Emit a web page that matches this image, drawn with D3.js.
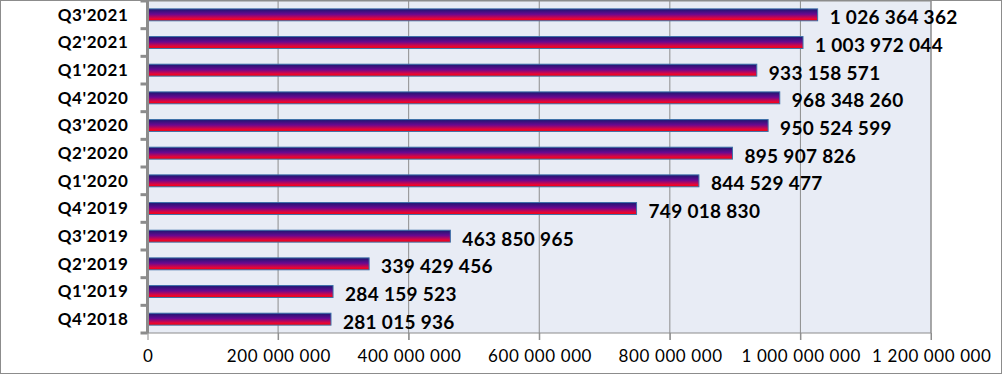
<!DOCTYPE html>
<html>
  <head>
    <meta charset="UTF-8">
    <style>
      body {
        margin: 0;
        font-family: Lato, "Open Sans", sans-serif;
        background: white;
      }
      .x-axis text {
        font-family: Lato, sans-serif;
        font-size: 17px;
        letter-spacing: 0.6px;
        fill: #000;
      }
      .y-axis text {
        font-family: Lato, sans-serif;
        font-size: 17px;
        font-weight: bold;
        letter-spacing: 0.6px;
        fill: #000;
      }
      .value-label {
        font-family: Lato, sans-serif;
        font-size: 19px;
        font-weight: bold;
        letter-spacing: 0.3px;
        fill: #000;
      }
    </style>
    <script src="https://d3js.org/d3.v7.min.js"></script>
  </head>
  <body>
    <svg id="chart"></svg>

    <script type="text/javascript">
      let quarters = ["Q4'2018", "Q1'2019", "Q2'2019", "Q3'2019", "Q4'2019", "Q1'2020",
                      "Q2'2020", "Q3'2020", "Q4'2020", "Q1'2021", "Q2'2021", "Q3'2021"]
      let values = [281015936, 284159523, 339429456, 463850965, 749018830, 844529477,
                    895907826, 950524599, 968348260, 933158571, 1003972044, 1026364362]
      let xTicks = [0, 200e6, 400e6, 600e6, 800e6, 1000e6, 1200e6]

      let fmt = v => d3.format(',')(v).replace(/,/g, ' ')

      let width = 1004
      let height = 376
      let margin = { top: 1, bottom: 43, left: 147.5, right: 73 }
      let bodyWidth = width - margin.left - margin.right
      let bodyHeight = height - margin.top - margin.bottom

      let svg = d3.select('#chart')
        .attr('width', width)
        .attr('height', height)

      let defs = svg.append('defs')
      let grad = defs.append('linearGradient')
        .attr('id', 'barGrad')
        .attr('x1', 0).attr('y1', 0).attr('x2', 0).attr('y2', 1)
      grad.append('stop').attr('offset', '0%').attr('stop-color', '#1a1870')
      grad.append('stop').attr('offset', '45%').attr('stop-color', '#6a0890')
      grad.append('stop').attr('offset', '80%').attr('stop-color', '#e0063e')
      grad.append('stop').attr('offset', '100%').attr('stop-color', '#ff0000')

      // outer frame
      svg.append('rect')
        .attr('x', 0.5).attr('y', 0.5)
        .attr('width', width - 3).attr('height', height - 3)
        .attr('fill', 'white')
        .attr('stroke', '#8c8c8c')

      let g = svg.append('g')
        .attr('transform', `translate(${margin.left}, ${margin.top})`)

      let x = d3.scaleLinear()
        .domain([0, 1200e6])
        .range([0, bodyWidth])

      let y = d3.scaleBand()
        .domain(quarters.slice().reverse())
        .range([0, bodyHeight])
        .paddingInner(0.57)
        .paddingOuter(0.285)

      g.append('rect')
        .attr('width', bodyWidth)
        .attr('height', bodyHeight)
        .attr('fill', '#e8ecf5')
        .attr('stroke', '#8c8c8c')

      // grid lines
      g.append('g')
        .selectAll('line')
        .data(xTicks.slice(1))
        .enter()
        .append('line')
        .attr('x1', d => x(d)).attr('x2', d => x(d))
        .attr('y1', 0).attr('y2', bodyHeight + 7)
        .attr('stroke', '#8c8c8c')

      // x axis
      let xAxis = g.append('g')
        .attr('class', 'x-axis')
        .attr('transform', `translate(0, ${bodyHeight})`)
        .call(d3.axisBottom(x).tickValues(xTicks).tickFormat(fmt).tickSize(7))
      xAxis.select('.domain').remove()
      xAxis.selectAll('.tick line').attr('stroke', '#8c8c8c')
      xAxis.selectAll('text').attr('dy', '1.2em').attr('y', 9).attr('dx', 0.3)

      // bars
      g.append('g')
        .selectAll('rect')
        .data(values)
        .enter()
        .append('rect')
        .attr('x', 0)
        .attr('y', (d, i) => y(quarters[i]))
        .attr('width', d => x(d))
        .attr('height', y.bandwidth())
        .attr('fill', 'url(#barGrad)')
        .attr('stroke', '#3c70a8')
        .attr('stroke-width', 1)

      g.append('g')
        .selectAll('text')
        .data(values)
        .enter()
        .append('text')
        .attr('class', 'value-label')
        .attr('x', d => x(d) + 12)
        .attr('y', (d, i) => y(quarters[i]) + y.bandwidth() / 2 + 3)
        .attr('dy', '0.35em')
        .text(d => fmt(d))

      // y axis
      let step = bodyHeight / quarters.length
      let yAxis = g.append('g')
        .attr('class', 'y-axis')
      yAxis.append('line')
        .attr('x1', 0).attr('x2', 0)
        .attr('y1', 0).attr('y2', bodyHeight)
        .attr('stroke', '#8c8c8c')
        .attr('stroke-width', 3)
      yAxis.selectAll('line.tk')
        .data(d3.range(quarters.length + 1))
        .enter()
        .append('line')
        .attr('class', 'tk')
        .attr('x1', -7).attr('x2', 0)
        .attr('y1', d => d * step).attr('y2', d => d * step)
        .attr('stroke', '#8c8c8c')
        .attr('stroke-width', 3)
      yAxis.selectAll('text')
        .data(quarters)
        .enter()
        .append('text')
        .attr('x', -19)
        .attr('y', d => y(d) + y.bandwidth() / 2)
        .attr('dy', '0.35em')
        .attr('text-anchor', 'end')
        .text(d => d)
    </script>
  </body>
</html>
